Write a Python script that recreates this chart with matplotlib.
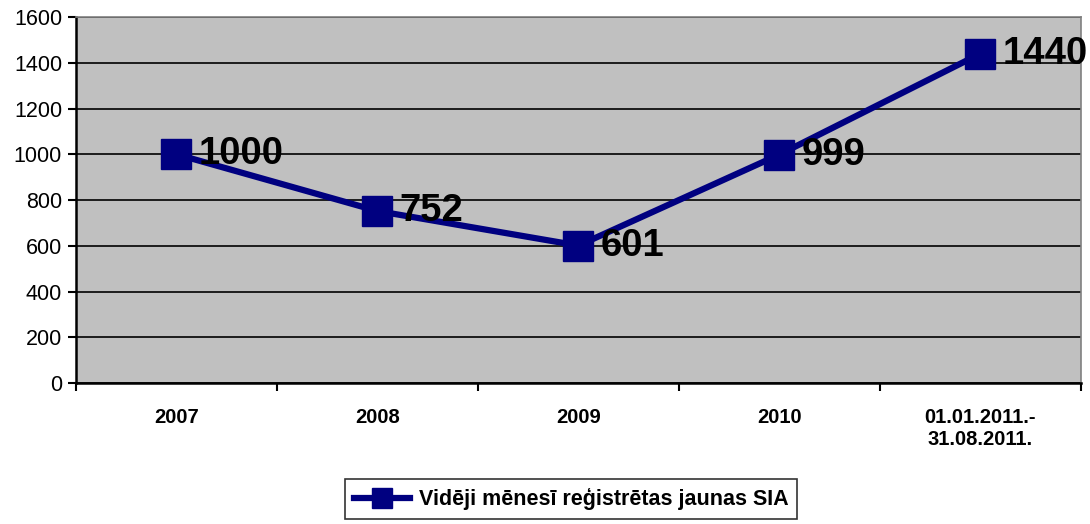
import matplotlib
matplotlib.use('Agg')
import matplotlib.pyplot as plt
import numpy as np

plt.rcParams['font.family'] = ['Liberation Sans', 'DejaVu Sans']

# Data
categories = ['2007', '2008', '2009', '2010', '01.01.2011.-\n31.08.2011.']
values = [1000, 752, 601, 999, 1440]
series_name = 'Vidēji mēnesī reģistrētas jaunas SIA'

fig = plt.figure(figsize=(10.9, 5.24), dpi=100)
ax = fig.add_axes([0.0697, 0.269, 0.922, 0.6985])
ax.set_facecolor('#C0C0C0')

x = np.arange(len(categories))
ax.plot(x, values, color='#000080', lw=4.5, marker='s', ms=22,
        markerfacecolor='#000080', markeredgecolor='#000080',
        label=series_name, zorder=3)

for xi, v in zip(x, values):
    ax.annotate(str(v), (xi, v), xytext=(16, 0), textcoords='offset points',
                fontsize=27.5, fontweight='bold', va='center', ha='left',
                color='black', zorder=4, annotation_clip=False)

ax.set_xlim(-0.5, len(categories) - 0.5)
ax.set_ylim(0, 1600)
ax.set_yticks(np.arange(0, 1601, 200))
ax.yaxis.grid(True, color='black', lw=1.2)
ax.set_axisbelow(True)

ax.set_xticks(x)
ax.set_xticklabels(categories, fontsize=14.5, fontweight='bold', linespacing=1.2)
ax.tick_params(axis='x', which='major', length=0, pad=18)
ax.set_xticks(np.arange(-0.5, len(categories)), minor=True)
ax.tick_params(axis='x', which='minor', length=6, width=1.5, direction='out')
ax.tick_params(axis='y', labelsize=15.5, length=6, width=1.5, direction='out', pad=4)

for side in ['left', 'bottom']:
    ax.spines[side].set_color('black')
    ax.spines[side].set_linewidth(1.8)
for side in ['top', 'right']:
    ax.spines[side].set_color('#808080')
    ax.spines[side].set_linewidth(1.2)

leg = fig.legend(loc='lower center', bbox_to_anchor=(0.524, 0.002),
                 frameon=True, fancybox=False, edgecolor='black',
                 prop={'weight': 'bold', 'size': 15.5}, handlelength=2.6,
                 handletextpad=0.4, markerscale=0.65, borderpad=0.4,
                 borderaxespad=0.2)
leg.get_frame().set_linewidth(1.2)

fig.savefig('out.png', dpi=100)
